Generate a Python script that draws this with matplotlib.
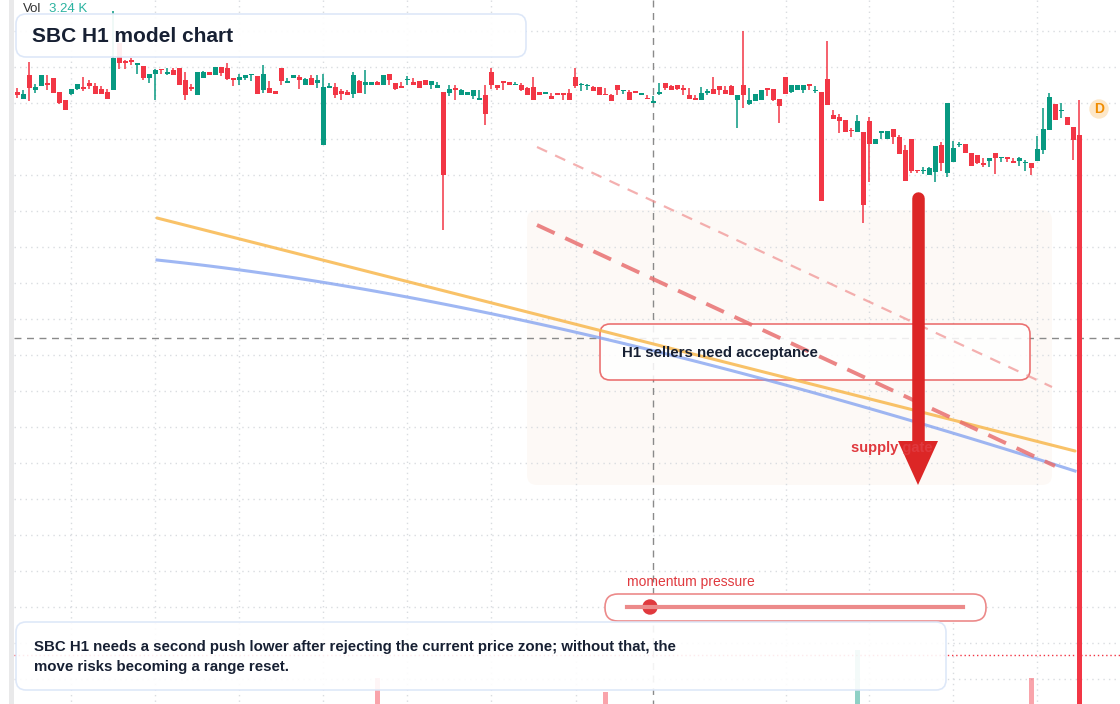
import numpy as np
import matplotlib
matplotlib.use("Agg")
import matplotlib.pyplot as plt
from matplotlib.patches import FancyBboxPatch, Rectangle, Circle

plt.rcParams['font.family'] = ['Liberation Sans', 'DejaVu Sans']

# ---- candle data (read as chart-depth units, converted to price below) ----
# each row: open, high, low, close  (depth = distance below chart top, 0.1 price per unit)
candles_depth = [
    (92.5, 87.5, 97.5, 95.5), (98.5, 89.5, 98.5, 94), (75, 62, 101.5, 87.5), (90.5, 83.5, 92.5, 87.5),
    (86, 75, 86.5, 75), (83, 75, 90, 85.5), (78, 78, 92.5, 92.5), (92, 92, 103.5, 102.5),
    (100, 100, 110.5, 110.5), (93.5, 89, 95.5, 89), (88.5, 83.5, 90.5, 84), (87, 77, 91.5, 89),
    (83, 79.5, 89, 86.5), (86, 82.5, 93.5, 93.5), (89, 86, 93.5, 93.5), (92, 88.5, 98.5, 98.5),
    (90, 11, 90, 58), (43, 43, 68.5, 63), (61, 59.5, 68.5, 63.5), (59.5, 58.5, 64.5, 62),
    (65.5, 63, 74, 63), (66, 66, 80.5, 77.5), (77.5, 73.5, 82.5, 73.5), (73.5, 69, 100, 70),
    (69, 69, 73.5, 70), (74, 67.5, 74.5, 72.5), (70, 67.5, 75.5, 75.5), (68, 68, 85.5, 85.5),
    (80, 72, 100, 94.5), (87.5, 83.5, 91, 88.5), (95.5, 72.5, 95.5, 72.5), (77.5, 71, 77.5, 72),
    (72, 72, 75.5, 75.5), (75.5, 67, 75.5, 67), (67, 67, 76.5, 72.5), (68, 63.5, 80, 78.5),
    (78, 78, 86.5, 80.5), (80.5, 74, 84.5, 77.5), (77.5, 75, 79.5, 75), (75.5, 75, 81.5, 75),
    (76.5, 76, 93.5, 93.5), (90, 65, 92.5, 74), (88, 81, 92.5, 92.5), (91.5, 91, 93.5, 93.5),
    (68, 68, 85.5, 81.5), (82.5, 77.5, 82.5, 82), (77.5, 75, 77.5, 75), (77.5, 75, 89, 80.5),
    (85.5, 77.5, 85.5, 79.5), (78, 75, 85.5, 85.5), (82.5, 75, 87.5, 80), (144.5, 74, 144.5, 87),
    (87.5, 83, 87.5, 86.5), (87, 83, 97.5, 95.5), (91, 88.5, 100, 93.5), (92.5, 90.5, 94.5, 94.5),
    (93.5, 72, 97.5, 75), (81.5, 79.5, 92.5, 92.5), (84.5, 70, 93.5, 82.5), (85.5, 82.5, 85.5, 82.5),
    (82, 81, 84.5, 84.5), (84.5, 75, 84.5, 75), (74, 74, 85.5, 79.5), (83, 83, 90.5, 88.5),
    (87, 82, 87.5, 87.5), (80.5, 76, 84.5, 79.5), (82, 78, 84.5, 84.5), (81, 81, 87.5, 87.5),
    (80, 80, 85.5, 85.5), (85.5, 81, 88.5, 81), (87.5, 82, 87.5, 85), (92, 92, 230, 175),
    (92.5, 85, 96.5, 89), (89, 85, 100.5, 89.5), (94.5, 89, 94.5, 90), (95.5, 92, 95.5, 92),
    (96.5, 90, 98.5, 90), (100.5, 90, 100.5, 98), (95, 85, 124.5, 113.5), (72, 68, 88.5, 85.5),
    (85, 85, 90, 87.5), (82, 82, 89.5, 82.5), (82, 82, 85.5, 85.5), (85.5, 82, 85.5, 84.5),
    (85, 83, 91.5, 90.5), (88, 87, 94.5, 94.5), (87, 77, 99.5, 99.5), (92, 92, 95.5, 95.5),
    (93.5, 92, 93.5, 92.5), (96, 92.5, 98.5, 98.5), (93, 93, 95.5, 95.5), (93, 93, 99.5, 95.5),
    (93, 88.5, 100.5, 100.5), (77, 68, 87.5, 86.5), (85.5, 83, 91.5, 84), (86.5, 84, 89.5, 85.5),
    (87, 86, 91.5, 91.5), (87, 87, 94.5, 94.5), (94.5, 88, 95.5, 95.5), (95.5, 93.5, 101.5, 101.5),
    (85, 85, 95.5, 90.5), (91, 90, 93.5, 90), (92, 90, 99.5, 99.5), (92, 92, 92.5, 92.5),
    (95.5, 93, 95.5, 93), (98.5, 94.5, 98.7, 98.7), (102.5, 96, 102.5, 102), (93.5, 83, 94.5, 92),
    (83, 83, 90.5, 87.5), (86, 85, 90.5, 90.5), (85, 85, 89.5, 88.5), (88, 85, 94.5, 90.5),
    (94.5, 88, 98.5, 98.5), (98, 95.5, 100.5, 100.5), (100.5, 87, 100.5, 93), (92.5, 89, 95.5, 91.5),
    (89, 77, 93.5, 93.5), (86, 86, 94.5, 90.5), (90, 86, 93.5, 93.5), (86, 85, 95.5, 95.5),
    (99.5, 95, 127.5, 95), (85, 31, 107.5, 94.5), (103.5, 88, 104.5, 100.5), (101.5, 93.5, 101.5, 94.5),
    (100.5, 90, 100.5, 90), (88, 88, 96.5, 90.5), (89, 89, 101.5, 99.5), (99, 99, 122.5, 106.5),
    (77, 77, 93.5, 93.5), (92, 85, 92.5, 85), (90.5, 85, 90.5, 85), (90.5, 85, 92.5, 85),
    (85, 85, 90.5, 85.7), (91.5, 86, 92.5, 90.5), (92, 92, 201, 201), (79, 41, 105, 105),
    (115, 110, 119, 119), (117, 114, 133, 121), (120, 120, 132, 132), (130, 128, 137, 131),
    (132, 115, 132, 121), (132, 132, 223, 205), (121, 117, 182, 144), (144, 139, 144, 139),
    (133, 131, 139, 131), (139, 131, 139, 131), (129, 129, 144, 137), (137, 135, 154, 154),
    (150, 145, 181, 181), (139, 139, 173, 171), (170, 170, 173, 171), (171, 167, 174, 170),
    (175, 167, 175, 168), (172, 146, 182, 146), (145, 142, 171, 163), (173, 103, 177, 103),
    (162, 141, 162, 148), (145, 142, 147, 144), (144, 144, 153, 153), (153, 153, 166, 166),
    (155, 155, 164, 163), (164, 158, 167, 164.5), (161, 158, 167, 158), (153, 153, 174, 158),
    (158, 157, 162, 157), (157, 157, 162, 159), (162, 158, 162.5, 162.5), (161, 157, 166, 158),
    (163, 160, 171, 162), (163, 163, 175, 168), (161, 136, 161, 149), (150, 108, 154, 129),
    (130, 93, 130, 97), (104, 104, 120, 120), (111, 103, 118, 110), (117, 117, 125, 125),
    (127, 127, 160, 140), (135, 100, 704, 704),
]
# volume (K) for the few bars visible along the bottom
vol_index = [60, 98, 140, 169, 177]
vol_values = [1.56, 0.72, 3.24, 1.56, 2.94]
vol_up = [False, False, True, False, False]

TOP_PRICE = 70.4
arr = np.array(candles_depth, dtype=float)
opens = TOP_PRICE - arr[:, 0] / 10
highs = TOP_PRICE - arr[:, 1] / 10
lows = TOP_PRICE - arr[:, 2] / 10
closes = TOP_PRICE - arr[:, 3] / 10
n = len(opens)
idx = np.arange(n)

GREEN = '#089981'
RED = '#f23645'
W, H = 1120, 704
fig = plt.figure(figsize=(W / 100, H / 100), dpi=100)
fig.patch.set_facecolor('white')

# background pixel axes: grid
bg = fig.add_axes([0, 0, 1, 1])
bg.set_xlim(0, W); bg.set_ylim(H, 0); bg.axis('off')
for y in np.arange(31, H, 36):
    bg.plot([14, W], [y, y], color='#d9dce0', lw=1, ls=(0, (1, 3)))
for x in [71, 155, 239, 323, 407, 491, 576, 786, 869, 953, 1037]:
    bg.plot([x, x], [0, H], color='#d9dce0', lw=1, ls=(0, (1, 3)))
bg.add_patch(Rectangle((9, 0), 5, H, color='#e9e9ea', lw=0))
bg.add_patch(FancyBboxPatch((527, 210), 525, 275, boxstyle='round,pad=0,rounding_size=10',
                            fc='#fdf6f0', ec='none', alpha=0.6))
bg.plot([653, 653], [0, H], color='#8a8a8a', lw=1, ls=(0, (5, 4)))
bg.plot([14, W], [338, 338], color='#8a8a8a', lw=1, ls=(0, (5, 4)))
bg.plot([14, W], [655, 655], color=RED, lw=1, ls=(0, (1, 2)))

# volume axes
vax = fig.add_axes([0, 0, 1, 60 / H])
vax.set_facecolor('none'); vax.axis('off')
vax.set_xlim(-17.3 / 6, (W - 17.3) / 6); vax.set_ylim(0, 3.6)
vax.bar(vol_index, vol_values, width=0.75,
        color=[GREEN if u else RED for u in vol_up], alpha=0.45)

# main candle axes
ax = fig.add_axes([0, 0, 1, 1])
ax.set_facecolor('none'); ax.axis('off')
ax.set_xlim(-17.3 / 6, (W - 17.3) / 6)
ax.set_ylim(0, TOP_PRICE)
colors = np.where(closes >= opens, GREEN, RED)
ax.vlines(idx, lows, highs, colors=colors, lw=1.1)
bottoms = np.minimum(opens, closes)
heights = np.maximum(np.abs(closes - opens), 0.12)
ax.bar(idx, heights, bottom=bottoms, width=0.75, color=colors, lw=0)

# foreground annotation axes
fg = fig.add_axes([0, 0, 1, 1])
fg.set_facecolor('none'); fg.axis('off')
fg.set_xlim(0, W); fg.set_ylim(H, 0)

fg.plot([157, 1075], [218, 451], color='#f8b84e', lw=2.2, alpha=0.85, solid_capstyle='round')
t = np.linspace(0, 1, 60)
bx = (1 - t) ** 2 * 157 + 2 * (1 - t) * t * 540 + t ** 2 * 1075
by = (1 - t) ** 2 * 260 + 2 * (1 - t) * t * 300 + t ** 2 * 471
fg.plot(bx, by, color='#7f9ff0', lw=2.2, alpha=0.75)
fg.plot([537, 1052], [147, 387], color='#f08f8f', lw=1.6, ls=(0, (5, 4)), alpha=0.7)
fg.plot([537, 1055], [225, 466], color='#e87070', lw=2.8, ls=(0, (5, 3)), alpha=0.85)

fg.text(23, 9, 'Vol', fontsize=9.5, color='#333', va='center')
fg.text(49, 9, '3.24 K', fontsize=9.5, color='#2ab3a0', va='center')

fg.add_patch(FancyBboxPatch((16, 14), 510, 43, boxstyle='round,pad=0,rounding_size=10',
                            fc='white', ec='#dbe6f8', lw=1.2, alpha=0.93))
fg.text(32, 36, 'SBC H1 model chart', fontsize=15, fontweight='bold', color='#172033', va='center')

fg.add_patch(FancyBboxPatch((600, 324), 430, 56, boxstyle='round,pad=0,rounding_size=10',
                            fc='white', ec='#e85a5a', lw=1.2, alpha=0.85))
fg.text(622, 353, 'H1 sellers need acceptance', fontsize=10.8, fontweight='bold', color='#172033', va='center')

fg.text(851, 448, 'supply gate', fontsize=10.5, fontweight='bold', color='#e0393e', va='center')
fg.plot([918, 918], [198, 445], color='#dc2626', lw=9, solid_capstyle='round')
fg.fill([898, 938, 918], [441, 441, 485], color='#dc2626', lw=0)

fg.add_patch(Circle((1099, 109), 9, color='#fde7c8'))
fg.text(1099, 109, 'D', fontsize=10, fontweight='bold', color='#f08c00', ha='center', va='center')

fg.text(627, 582, 'momentum pressure', fontsize=10, color='#e0393e', va='center')
fg.add_patch(FancyBboxPatch((605, 594), 381, 27, boxstyle='round,pad=0,rounding_size=13',
                            fc='white', ec='#ec8a8a', lw=1.2))
fg.plot([627, 963], [607, 607], color='#ec8a8a', lw=3)
fg.add_patch(Circle((650, 607), 7, color='#e0393e'))

fg.add_patch(FancyBboxPatch((16, 622), 930, 68, boxstyle='round,pad=0,rounding_size=10',
                            fc='white', ec='#dbe6f8', lw=1.2, alpha=0.9))
fg.text(34, 647, 'SBC H1 needs a second push lower after rejecting the current price zone; without that, the',
        fontsize=10.8, fontweight='bold', color='#172033', va='center')
fg.text(34, 667, 'move risks becoming a range reset.', fontsize=10.8, fontweight='bold', color='#172033', va='center')

fig.savefig('out.png', dpi=100)
